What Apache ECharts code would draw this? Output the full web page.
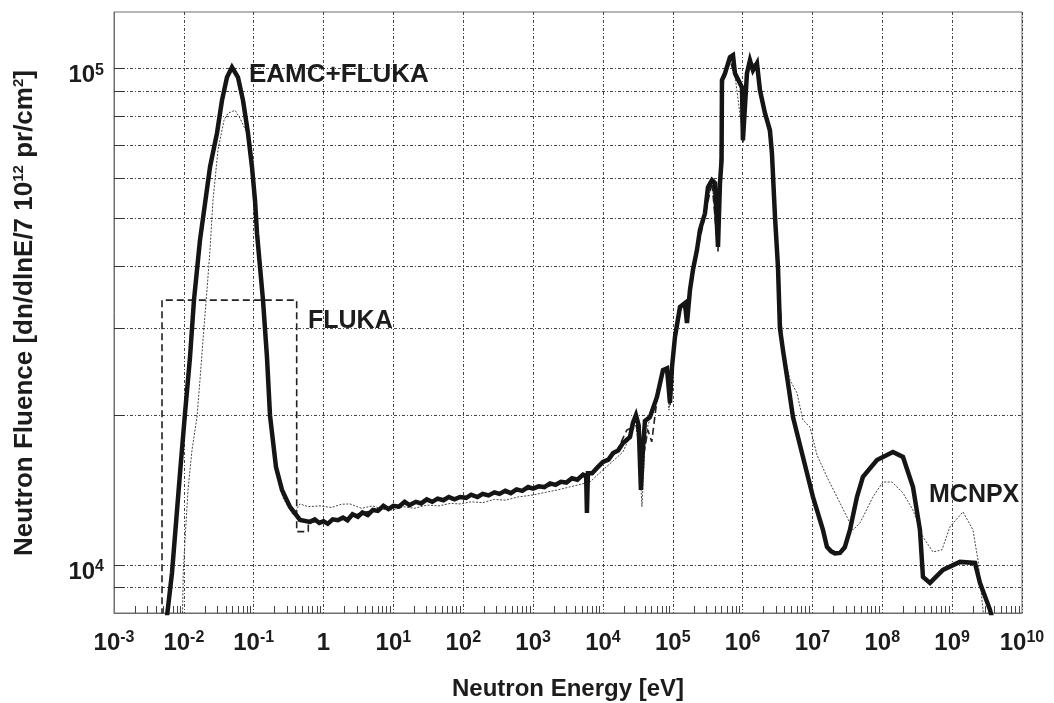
<!DOCTYPE html>
<html>
<head>
<meta charset="utf-8">
<title>Neutron fluence spectrum</title>
<script src="https://cdn.jsdelivr.net/npm/echarts@6/dist/echarts.min.js"></script>
<style>
  html, body { margin: 0; padding: 0; background: #ffffff; }
  #chart { width: 1054px; height: 703px; }
</style>
</head>
<body>
<div id="chart"></div>
<script>
// Neutron fluence per unit lethargy vs. neutron energy, three transport codes.
// Each entry is [energy in eV, fluence].

// EAMC+FLUKA (thick solid)
const eamcFluka = [
  [5.55e-3, 7570], [6.77e-3, 9640], [8.81e-3, 15300], [1.039e-2, 20200], [1.225e-2, 26200],
  [1.397e-2, 34200], [1.702e-2, 45100], [2.368e-2, 63300], [2.983e-2, 74100], [3.517e-2, 86300],
  [4.147e-2, 96000], [4.89e-2, 100600], [5.96e-2, 96000], [7.03e-2, 86300], [8.29e-2, 74100],
  [9.46e-2, 63300], [0.1044, 54300], [0.1115, 46600], [0.1358, 34200], [0.155, 26200],
  [0.1712, 20000], [0.2086, 15750], [0.2542, 14160], [0.3311, 13090], [0.46, 12320],
  [0.64, 12210], [0.75, 12350], [0.87, 12150], [1.0, 12250], [1.15, 12100], [1.35, 12350],
  [1.6, 12300], [1.9, 12450], [2.2, 12300], [2.6, 12650], [3.1, 12500], [3.6, 12750],
  [4.3, 12600], [5.1, 12900], [6, 12850], [7.2, 13150], [8.5, 12950], [10, 13150],
  [12, 13100], [14.5, 13400], [17, 13200], [21, 13400], [25, 13300], [30, 13550],
  [36, 13400], [43, 13600], [52, 13500], [62, 13700], [75, 13550], [90, 13700],
  [110, 13650], [130, 13850], [160, 13700], [190, 13900], [230, 13800], [280, 14000],
  [330, 13900], [400, 14100], [480, 13950], [580, 14200], [700, 14100], [850, 14350],
  [1000, 14250], [1200, 14400], [1450, 14350], [1750, 14600], [2100, 14500], [2500, 14700],
  [3000, 14650], [3600, 14950], [4300, 14850], [5200, 15200], [5750, 15100], [5900, 12730],
  [6100, 15300], [7000, 15300], [8300, 15700], [1.0e4, 16120], [1.2e4, 16300],
  [1.4e4, 16800], [1.65e4, 17000], [1.94e4, 17610], [2.44e4, 18100],
  [2.69e4, 19320], [2.97e4, 20040], [3.25e4, 19100], [3.5e4, 14160], [3.75e4, 17300],
  [4.0e4, 19500], [4.72e4, 19860], [5.94e4, 21800], [7.24e4, 24700], [8.26e4, 24900],
  [9.12e4, 21200], [9.74e4, 25000], [1.075e5, 28770], [1.268e5, 33070], [1.495e5, 33700],
  [1.597e5, 30700], [1.763e5, 35800], [1.946e5, 39300], [2.22e5, 43100], [2.45e5, 47300],
  [2.89e5, 51100], [3.19e5, 57700], [3.64e5, 59600], [4.02e5, 58800], [4.44e5, 43700],
  [4.74e5, 58800], [5.0e5, 65400], [5.06e5, 94700], [5.59e5, 97800], [6.59e5, 105400],
  [7.28e5, 106400], [7.77e5, 97800], [9.79e5, 91700], [1.01e6, 71700], [1.154e6, 97800],
  [1.274e6, 103900], [1.407e6, 99200], [1.605e6, 102500], [1.772e6, 90400], [2.09e6, 81300],
  [2.46e6, 75100], [2.63e6, 67500], [2.91e6, 50200], [3.21e6, 39800], [3.42e6, 30000],
  [3.78e6, 27100], [4.46e6, 23250], [5.26e6, 19860], [6.2e6, 18100], [7.31e6, 16500],
  [1.016e7, 13710], [1.413e7, 11760], [1.613e7, 10870], [1.85e7, 10650], [2.1e7, 10550],
  [2.48e7, 10570], [2.9e7, 10850], [3.44e7, 11760],
  [4.34e7, 13710], [5.28e7, 15040], [8.38e7, 16270], [1.419e8, 16890], [1.976e8, 16500],
  [2.75e8, 14350], [3.46e8, 11760], [3.82e8, 9460], [4.81e8, 9200], [7.38e8, 9770],
  [1.294e9, 10140], [2.12e9, 10090], [2.5e9, 9200], [3.48e9, 8120], [4.0e9, 7500]
];

// FLUKA alone (dashed); the coarse thermal group is drawn with its bin edges
const flukaOnly = [
  [4.87e-3, 5000], [4.87e-3, 34160], [0.4126, 34160], [0.4126, 11670], [0.605, 11670],
  [0.605, 12150], [0.8, 12250], [1.1, 12200], [1.6, 12350], [2.4, 12450], [3.5, 12750],
  [5.2, 12850], [7.5, 13000], [11, 13150], [17, 13250], [25, 13350], [40, 13450],
  [60, 13500], [100, 13650], [160, 13750], [250, 13850], [400, 13950], [630, 14100],
  [1000, 14250], [1600, 14400], [2500, 14600], [4000, 14900], [6300, 15200], [1.0e4, 16000],
  [1.6e4, 17000], [2.2e4, 18700], [2.6e4, 18900], [2.97e4, 19600], [3.3e4, 17000],
  [3.5e4, 14600], [3.8e4, 16500], [4.4e4, 18700], [5.0e4, 17700], [5.94e4, 21500],
  [7.24e4, 24200], [8.26e4, 24300], [9.12e4, 20900], [9.74e4, 24500], [1.075e5, 28200],
  [1.268e5, 32500], [1.495e5, 33200], [1.763e5, 35300], [2.22e5, 42600], [2.89e5, 50500],
  [3.64e5, 59000], [4.44e5, 42800], [4.74e5, 58000], [5.06e5, 92000], [6.59e5, 104000],
  [7.77e5, 96500], [9.79e5, 90500], [1.01e6, 71000], [1.154e6, 96500], [1.274e6, 103000],
  [1.605e6, 101500], [1.772e6, 89000], [2.09e6, 80500], [2.46e6, 74000], [2.91e6, 49500],
  [3.21e6, 39000], [3.78e6, 26600], [4.46e6, 23000], [5.26e6, 19600], [7.31e6, 16300],
  [1.016e7, 13600], [1.413e7, 11700]
];

// MCNPX (thin dotted)
const mcnpx = [
  [9.5e-3, 7500], [9.8e-3, 9600], [1.039e-2, 11230], [1.147e-2, 14160], [1.309e-2, 17050],
  [1.543e-2, 19860], [1.702e-2, 23580], [1.88e-2, 28380], [2.145e-2, 35800], [2.368e-2, 43100],
  [2.615e-2, 54300], [3.08e-2, 68500], [3.76e-2, 78700], [4.29e-2, 81300], [5.4e-2, 82400],
  [6.37e-2, 79400], [8.02e-2, 74100], [9.15e-2, 62400], [0.1115, 45110], [0.1358, 33400],
  [0.1712, 19580], [0.2086, 15540], [0.2627, 13640], [0.3653, 12610], [0.46, 13270],
  [0.6, 13100], [0.89, 13150], [1.3, 13050], [1.8, 13250], [2.39, 13270], [3.5, 13000],
  [5, 13150], [7, 12950], [9.87, 12900], [14, 13100], [20, 13000], [30, 13200], [45, 13150],
  [65, 13300], [89.8, 13270], [130, 13400], [190, 13350], [280, 13550], [400, 13500],
  [600, 13700], [997, 13830], [1500, 14000], [2200, 14150], [3300, 14350], [4500, 14500],
  [6525, 14690], [1.0e4, 15540], [1.4e4, 16200], [1.936e4, 16890], [2.69e4, 18700],
  [2.97e4, 19140], [3.3e4, 17000], [3.62e4, 13090], [4.0e4, 17500], [4.42e4, 19140],
  [5.94e4, 21490], [7.24e4, 24350], [8.26e4, 24500], [8.8e4, 20500], [9.5e4, 22000],
  [1.075e5, 28500], [1.268e5, 32500], [1.495e5, 33000], [1.763e5, 35500], [2.22e5, 43000],
  [2.89e5, 51000], [3.64e5, 59000], [4.44e5, 44500], [5.06e5, 93000], [6.59e5, 104000],
  [7.77e5, 97000], [1.01e6, 72500], [1.154e6, 97000], [1.274e6, 103000], [1.605e6, 101500],
  [1.772e6, 90000], [2.09e6, 81000], [2.63e6, 68000], [3.21e6, 40500], [3.78e6, 27500],
  [4.76e6, 23580], [6.0e6, 22200], [7.31e6, 19580], [9.2e6, 18960], [1.16e7, 16660],
  [1.613e7, 15040], [2.24e7, 13710], [3.12e7, 12490], [3.8e7, 11760], [4.79e7, 12150],
  [7.35e7, 13710], [1.02e8, 14690], [1.374e8, 14690], [1.976e8, 13960], [2.75e8, 12900],
  [3.82e8, 11390], [5.31e8, 10620], [7.14e8, 10720], [9.29e8, 11930], [1.428e9, 12790],
  [1.987e9, 11760], [2.34e9, 10230], [2.76e9, 8120], [2.95e9, 7570]
];

// Axis ranges and tick positions
const energyRange = [1e-3, 1e10];
const fluenceRange = [8000, 130000];
const energyDecades = [1e-3, 1e-2, 1e-1, 1, 1e1, 1e2, 1e3, 1e4, 1e5, 1e6, 1e7, 1e8, 1e9, 1e10];
const minorMultipliers = [2, 3, 4, 5, 6, 7, 8, 9];
const fluenceGrid = [9000, 10000, 20000, 30000, 40000, 50000, 60000, 70000, 80000, 90000, 100000];
const fluenceLabels = [10000, 100000];

const energyMinor = [];
energyDecades.slice(0, -1).forEach(d => minorMultipliers.forEach(m => energyMinor.push(m * d)));

const FONT = '"Liberation Sans", Arial, Helvetica, sans-serif';
const INK = '#1c1c1c';
const GRID_DASH = [3, 2, 1, 2];

function powerLabel(v) {
  const e = Math.round(Math.log10(v));
  return e === 0 ? '{b|1}' : '{b|10}{s|' + e + '}';
}

const labelRich = {
  b: { fontFamily: FONT, fontWeight: 'bold', fontSize: 24, color: INK, lineHeight: 26 },
  s: { fontFamily: FONT, fontWeight: 'bold', fontSize: 16, color: INK, verticalAlign: 'top', lineHeight: 17 }
};

const chart = echarts.init(document.getElementById('chart'), null, { renderer: 'canvas' });

chart.setOption({
  animation: false,
  backgroundColor: '#ffffff',
  grid: {
    left: 114, right: 32, top: 12, bottom: 90,
    containLabel: false, outerBoundsMode: 'none',
    show: true, borderColor: '#6e6e6e', borderWidth: 1
  },
  xAxis: [
    {
      type: 'log', logBase: 10, min: energyRange[0], max: energyRange[1],
      axisLine: { show: true, lineStyle: { color: '#6e6e6e', width: 1 } },
      axisTick: { show: false, customValues: energyDecades },
      axisLabel: {
        customValues: energyDecades, margin: 17, formatter: powerLabel, rich: labelRich
      },
      splitLine: { show: true, lineStyle: { color: '#444', width: 1, type: GRID_DASH } }
    },
    {
      type: 'log', logBase: 10, min: energyRange[0], max: energyRange[1], position: 'bottom',
      axisLine: { show: false },
      axisTick: { show: true, inside: true, length: 7, customValues: energyMinor,
                  lineStyle: { color: '#444', width: 1 } },
      axisLabel: { show: false },
      splitLine: { show: false }
    }
  ],
  yAxis: [
    {
      type: 'log', logBase: 10, min: fluenceRange[0], max: fluenceRange[1],
      axisLine: { show: true, lineStyle: { color: '#6e6e6e', width: 1 } },
      axisTick: { show: true, inside: true, length: 10, customValues: fluenceGrid,
                  lineStyle: { color: '#333', width: 1 } },
      axisLabel: {
        customValues: fluenceLabels, margin: 10, formatter: powerLabel, rich: labelRich,
        padding: [14, 0, 0, 0]
      },
      splitLine: { show: true, lineStyle: { color: '#444', width: 1, type: GRID_DASH } }
    }
  ],
  series: [
    {
      name: 'MCNPX', type: 'line', data: mcnpx, xAxisIndex: 0, yAxisIndex: 0,
      showSymbol: false, symbol: 'none', clip: true,
      lineStyle: { color: '#444', width: 1, type: [2, 1.5] }, z: 2
    },
    {
      name: 'FLUKA', type: 'line', data: flukaOnly, xAxisIndex: 0, yAxisIndex: 0,
      showSymbol: false, symbol: 'none', clip: true,
      lineStyle: { color: '#222', width: 1.6, type: [7, 4] }, z: 3
    },
    {
      name: 'EAMC+FLUKA', type: 'line', data: eamcFluka, xAxisIndex: 0, yAxisIndex: 0,
      showSymbol: false, symbol: 'none', clip: true,
      lineStyle: { color: '#151515', width: 4.5, join: 'miter' }, z: 4
    }
  ],
  graphic: [
    {
      type: 'text', left: 249, top: 62, z: 10,
      style: { text: 'EAMC+FLUKA', font: 'bold 26px ' + FONT, fill: INK }
    },
    {
      type: 'text', left: 308, top: 309, z: 10,
      style: { text: 'FLUKA', font: 'bold 25px ' + FONT, fill: INK }
    },
    {
      type: 'text', left: 929, top: 483, z: 10,
      style: { text: 'MCNPX', font: 'bold 25px ' + FONT, fill: INK }
    },
    {
      type: 'text', x: 568, y: 689, z: 10,
      style: {
        text: 'Neutron Energy [eV]', font: 'bold 24px ' + FONT, fill: INK,
        textAlign: 'center', textVerticalAlign: 'middle'
      }
    },
    {
      type: 'text', x: 25, y: 313, rotation: Math.PI / 2, z: 10,
      style: {
        text: '{t|Neutron Fluence [dn/dlnE/7 10}{u|12}{t| pr/cm}{u|2}{t|]}',
        textAlign: 'center', textVerticalAlign: 'middle',
        rich: {
          t: { fontFamily: FONT, fontWeight: 'bold', fontSize: 26, fill: INK, lineHeight: 28 },
          u: { fontFamily: FONT, fontWeight: 'bold', fontSize: 15, fill: INK, verticalAlign: 'top', lineHeight: 16 }
        }
      }
    }
  ]
});
</script>
</body>
</html>
